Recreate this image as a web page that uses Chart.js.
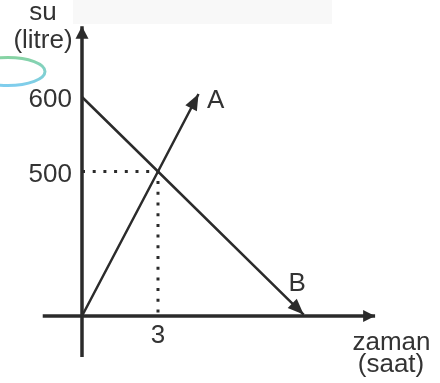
<!DOCTYPE html>
<html>
<head>
<meta charset="utf-8">
<script src="https://cdn.jsdelivr.net/npm/chart.js@4/dist/chart.umd.min.js"></script>
<style>
  html, body { margin: 0; padding: 0; background: #fff; }
  #wrap { width: 440px; height: 383px; }
</style>
</head>
<body>
<div id="wrap"><canvas id="suChart" width="440" height="383"></canvas></div>
<script>
// axis ticks
const timeTicks = [3];
const litreTicks = [500, 600];

// tank A fills, tank B drains (litres over hours)
const aTime = [0, 3, 4.6];
const aLitre = [306, 500, 604];
const bTime = [0, 3, 8.75];
const bLitre = [600, 500, 308];

// where the two axes cross and how far they run
const origin = { x: 0, y: 306 };
const xAxisEnds = [-1.55, 11.57];
const yAxisEnds = [251, 695];

const ink = '#2b2b2b';
const font = '26px "Liberation Sans", Arial, sans-serif';

function pts(xs, ys) {
    return xs.map((x, i) => ({ x: x, y: ys[i] }));
}

const guideX = timeTicks[0];
const guideY = litreTicks[0];

const decor = {
    id: 'decor',
    beforeDraw(chart) {
        const c = chart.ctx;
        c.save();
        c.fillStyle = '#f8f8f8';
        c.fillRect(73, 0, 259, 24);
        // the little oval on the left
        const g = c.createLinearGradient(0, 57, 0, 86);
        g.addColorStop(0, '#86d3a2');
        g.addColorStop(0.55, '#80d0d0');
        g.addColorStop(1, '#7fcdee');
        c.strokeStyle = g;
        c.lineWidth = 3;
        c.beginPath();
        c.ellipse(8, 71.5, 37, 14, 0, 0, Math.PI * 2);
        c.stroke();
        c.restore();
    },
    afterDatasetsDraw(chart) {
        const c = chart.ctx;
        c.save();
        chart.data.datasets.forEach((ds, i) => {
            if (!ds.arrow) return;
            const p = chart.getDatasetMeta(i).data;
            const tip = p[p.length - 1], prev = p[p.length - 2];
            const ang = Math.atan2(tip.y - prev.y, tip.x - prev.x);
            const L = ds.arrow[0], W = ds.arrow[1];
            c.fillStyle = ink;
            c.beginPath();
            c.moveTo(tip.x, tip.y);
            c.lineTo(tip.x - L * Math.cos(ang) + W * Math.sin(ang), tip.y - L * Math.sin(ang) - W * Math.cos(ang));
            c.lineTo(tip.x - L * Math.cos(ang) - W * Math.sin(ang), tip.y - L * Math.sin(ang) + W * Math.cos(ang));
            c.closePath();
            c.fill();
        });

        const xs = chart.scales.x, ys = chart.scales.y;
        const ox = xs.getPixelForValue(origin.x);
        const oy = ys.getPixelForValue(origin.y);
        c.fillStyle = '#333';
        c.font = font;

        c.textAlign = 'right';
        litreTicks.forEach(v => c.fillText(String(v), ox - 10, ys.getPixelForValue(v) + 10.5));
        c.textAlign = 'center';
        timeTicks.forEach(v => c.fillText(String(v), xs.getPixelForValue(v), oy + 27));

        c.fillText('su', ox - 39, 20);
        c.fillText('(litre)', ox - 39, 48);
        c.fillText('zaman', 391.5, oy + 34);
        c.fillText('(saat)', 391, oy + 56);

        const aEnd = { x: xs.getPixelForValue(aTime[aTime.length - 1]), y: ys.getPixelForValue(aLitre[aLitre.length - 1]) };
        const bEnd = { x: xs.getPixelForValue(bTime[bTime.length - 1]), y: ys.getPixelForValue(bLitre[bLitre.length - 1]) };
        c.textAlign = 'left';
        c.fillText('A', aEnd.x + 8.5, aEnd.y + 13.5);
        c.textAlign = 'center';
        c.fillText('B', bEnd.x - 6.5, bEnd.y - 24);
        c.restore();
    }
};

const ctx = document.getElementById('suChart').getContext('2d');

new Chart(ctx, {
    type: 'scatter',
    data: {
        datasets: [
            {
                label: 'y axis',
                data: [{ x: origin.x, y: yAxisEnds[0] }, { x: origin.x, y: yAxisEnds[1] }],
                borderColor: ink,
                backgroundColor: ink,
                borderWidth: 3.5,
                arrow: [12.5, 6.5]
            },
            {
                label: 'x axis',
                data: [{ x: xAxisEnds[0], y: origin.y }, { x: xAxisEnds[1], y: origin.y }],
                borderColor: ink,
                backgroundColor: ink,
                borderWidth: 3.5,
                arrow: [12, 6]
            },
            {
                label: 'guide',
                data: [{ x: origin.x, y: guideY }, { x: guideX, y: guideY }, { x: guideX, y: origin.y }],
                borderColor: ink,
                backgroundColor: ink,
                borderWidth: 3,
                borderDash: [3, 7.7],
                borderCapStyle: 'butt'
            },
            {
                label: 'A',
                data: pts(aTime, aLitre),
                borderColor: ink,
                backgroundColor: ink,
                borderWidth: 2.5,
                arrow: [16, 6.5]
            },
            {
                label: 'B',
                data: pts(bTime, bLitre),
                borderColor: ink,
                backgroundColor: ink,
                borderWidth: 2.5,
                arrow: [16, 6.5]
            }
        ]
    },
    options: {
        responsive: false,
        animation: false,
        showLine: true,
        layout: { padding: 0 },
        datasets: {
            scatter: {
                pointRadius: 0,
                clip: false
            }
        },
        scales: {
            x: { type: 'linear', display: false, min: -3.2368, max: 14.132 },
            y: { type: 'linear', display: false, min: 216.1, max: 730.2 }
        },
        plugins: {
            legend: { display: false },
            tooltip: { enabled: false }
        }
    },
    plugins: [decor]
});
</script>
</body>
</html>
